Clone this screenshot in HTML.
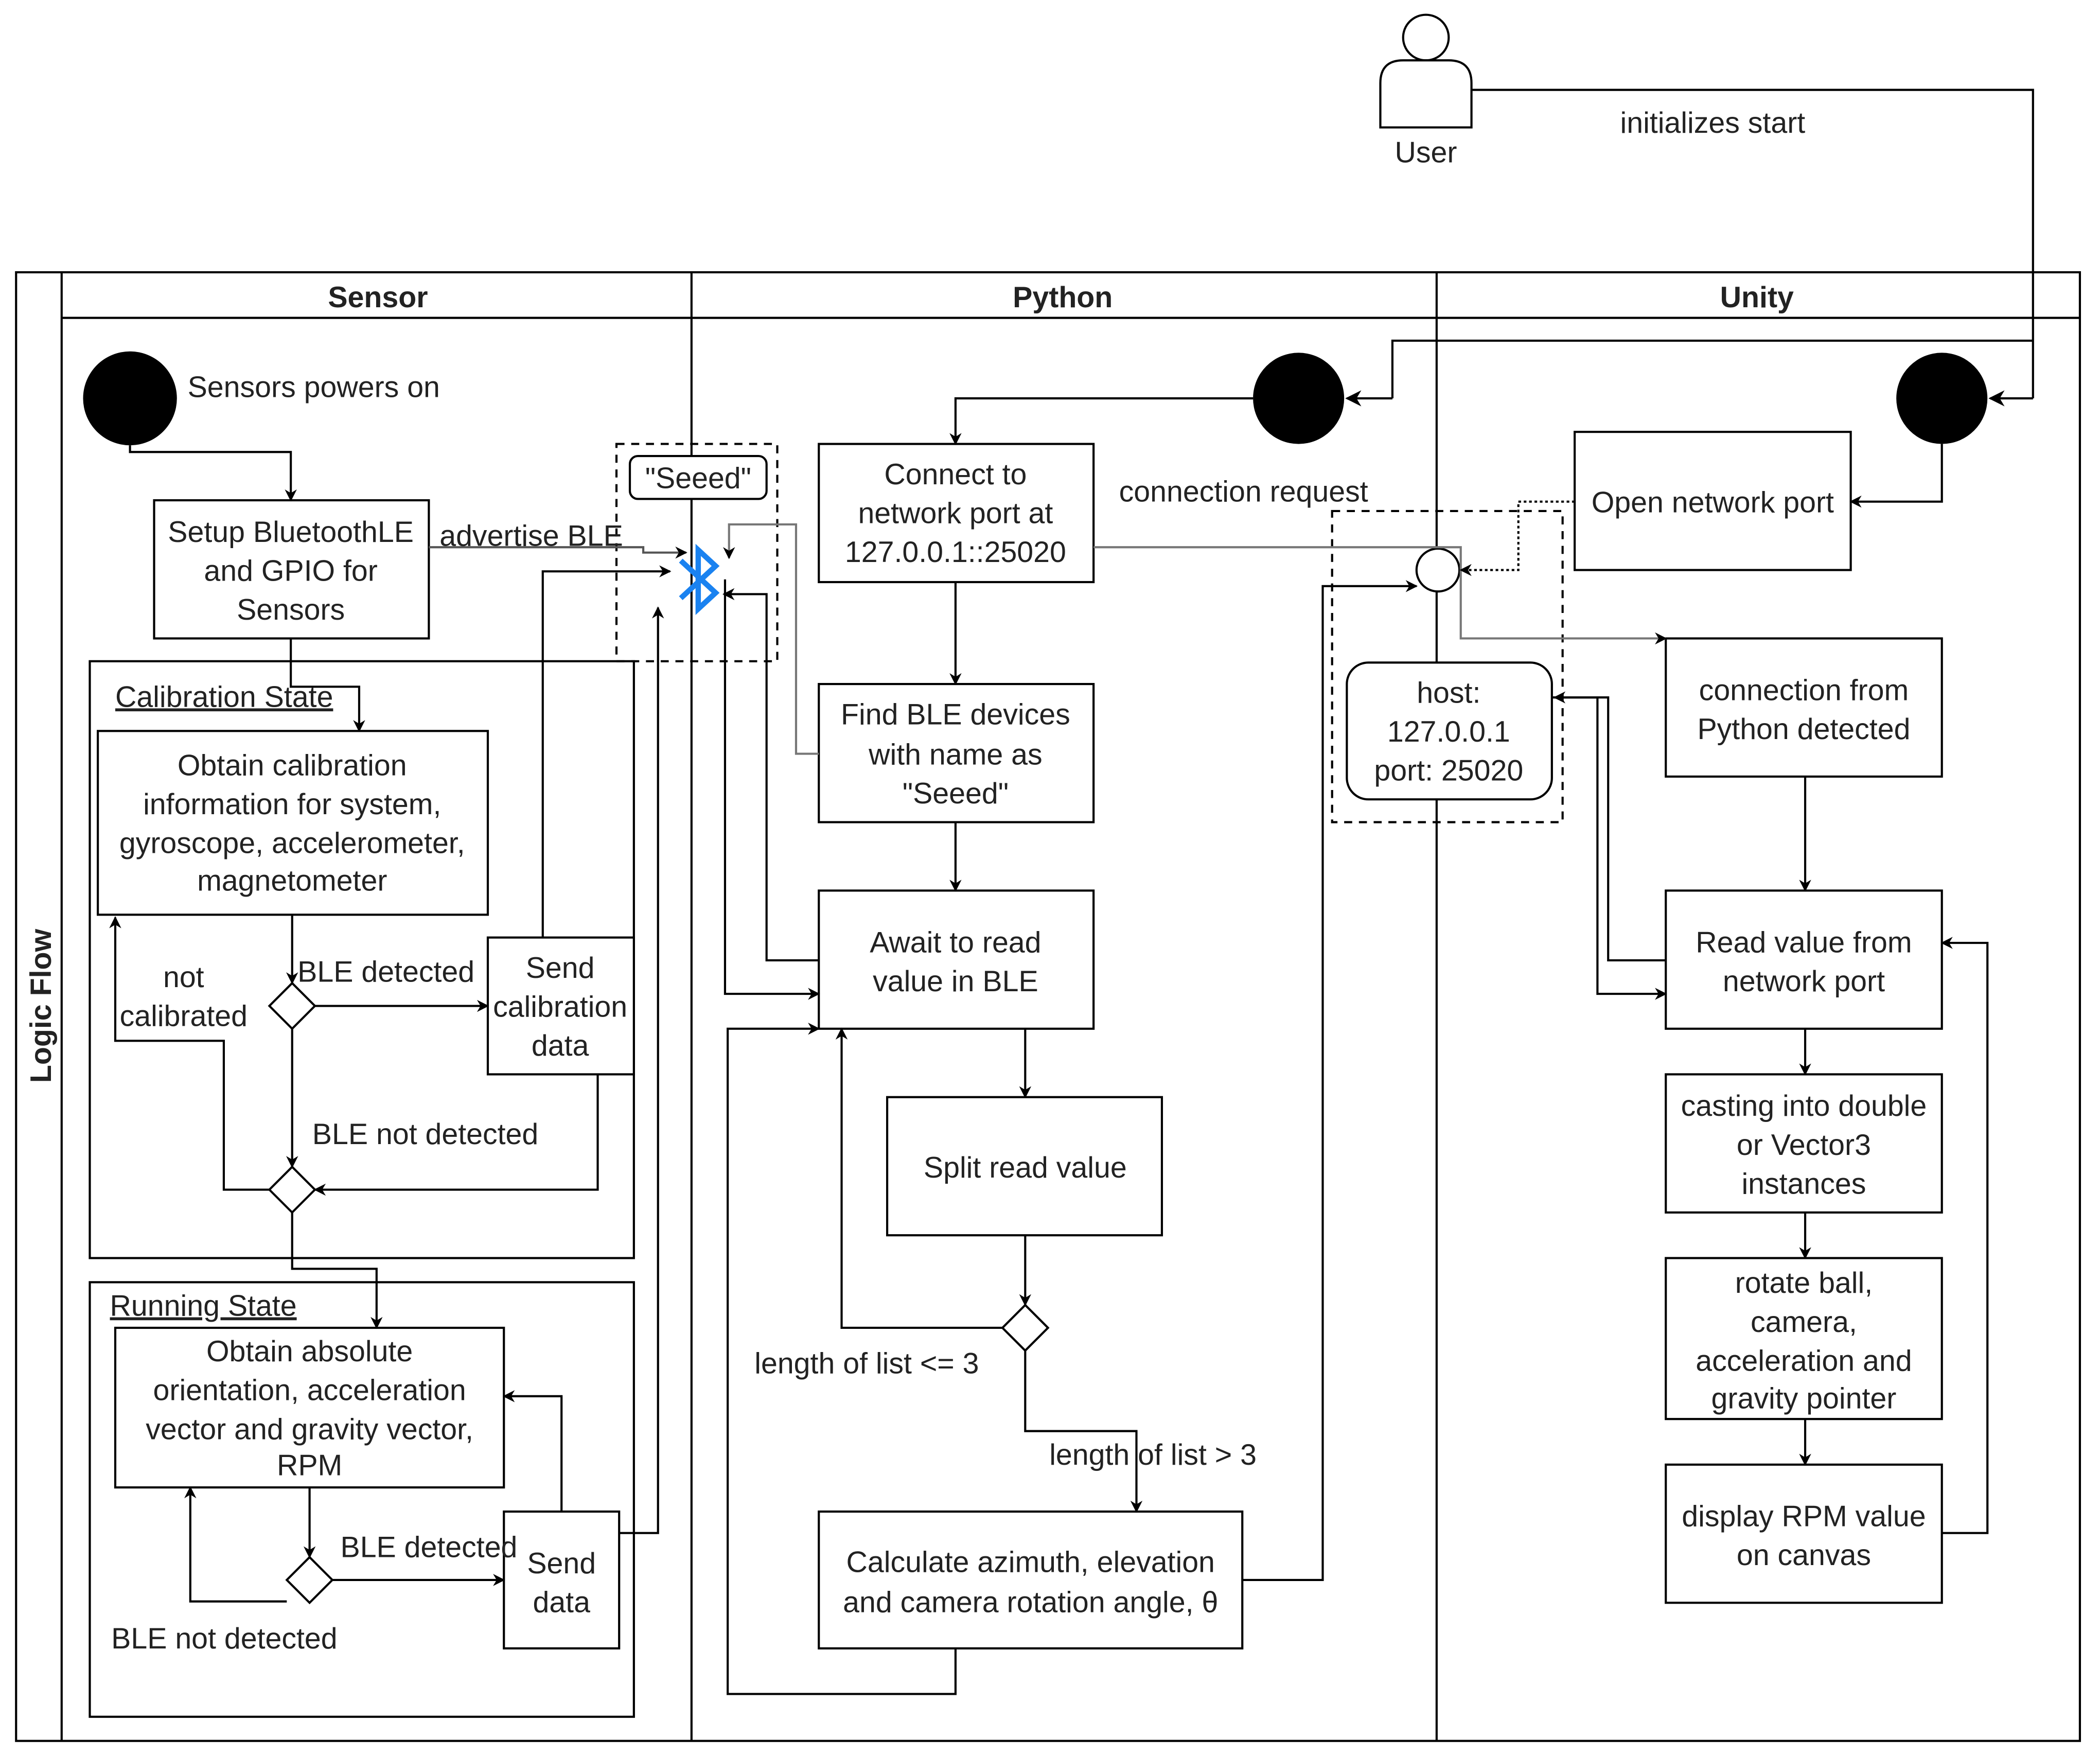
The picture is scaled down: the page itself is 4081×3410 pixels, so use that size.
<!DOCTYPE html>
<html><head><meta charset="utf-8"><style>
html,body{margin:0;padding:0;background:#fff}
svg{display:block}
text{font-family:"Liberation Sans",sans-serif;font-size:22px;fill:#222}
</style></head><body>
<svg width="4081" height="3410" viewBox="0 0 1567 1308.5" preserveAspectRatio="none" xmlns="http://www.w3.org/2000/svg">
<defs>
<marker id="a" viewBox="0 0 10 10" refX="9" refY="5" markerWidth="9" markerHeight="9" orient="auto" markerUnits="userSpaceOnUse"><path d="M0,0 L10,5 L0,10 L3,5 z" fill="#000"/></marker>
<marker id="a2" viewBox="0 0 10 10" refX="9" refY="5" markerWidth="12" markerHeight="12" orient="auto" markerUnits="userSpaceOnUse"><path d="M0,0 L10,5 L0,10 L3,5 z" fill="#000"/></marker>
</defs>
<g fill="none" stroke="#000" stroke-width="1.6">
<rect x="12" y="203" width="1540" height="1095"/>
<line x1="46" y1="203" x2="46" y2="1298"/>
<line x1="46" y1="237" x2="1552" y2="237"/>
<line x1="516" y1="203" x2="516" y2="1298"/>
<line x1="1072" y1="203" x2="1072" y2="1298"/>
<circle cx="1064" cy="28" r="17" fill="#fff"/>
<path d="M1030,95 L1030,62 Q1030,45 1047,45 L1081,45 Q1098,45 1098,62 L1098,95 Z" fill="#fff"/>
<polyline points="1098,67 1517,67 1517,297" />
<line x1="1517" y1="297" x2="1485" y2="297" marker-end="url(#a2)"/>
<polyline points="1517,254 1039,254 1039,297" />
<line x1="1039" y1="297" x2="1005" y2="297" marker-end="url(#a2)"/>
<rect x="67" y="493" width="406" height="445"/>
<rect x="67" y="956" width="406" height="324"/>
<rect x="115" y="373" width="205" height="103" fill="#fff"/>
<rect x="73" y="545" width="291" height="137" fill="#fff"/>
<rect x="364" y="699" width="109" height="102" fill="#fff"/>
<rect x="86" y="990" width="290" height="119" fill="#fff"/>
<rect x="376" y="1127" width="86" height="102" fill="#fff"/>
<rect x="611" y="331" width="205" height="103"/>
<rect x="611" y="510" width="205" height="103"/>
<rect x="611" y="664" width="205" height="103"/>
<rect x="662" y="818" width="205" height="103"/>
<rect x="611" y="1127" width="316" height="102"/>
<rect x="1175" y="322" width="206" height="103"/>
<rect x="1243" y="476" width="206" height="103"/>
<rect x="1243" y="664" width="206" height="103"/>
<rect x="1243" y="801" width="206" height="103"/>
<rect x="1243" y="938" width="206" height="120"/>
<rect x="1243" y="1092" width="206" height="103"/>
<rect x="1005" y="494" width="153" height="102" rx="16" fill="#fff"/>
<rect x="470" y="340" width="102" height="32" rx="6" fill="#fff"/>
<rect x="460" y="331" width="120" height="162" stroke-dasharray="6,5"/>
<rect x="994" y="381" width="172" height="232" stroke-dasharray="6,5"/>
<path d="M218,733 L235,750 L218,767 L201,750 Z" fill="#fff"/>
<path d="M218,870 L235,887 L218,904 L201,887 Z" fill="#fff"/>
<path d="M231,1161 L248,1178 L231,1195 L214,1178 Z" fill="#fff"/>
<path d="M765,973 L782,990 L765,1007 L748,990 Z" fill="#fff"/>
<circle cx="1073" cy="425" r="16" fill="#fff"/>
<polyline points="97,332 97,337 217,337 217,373" marker-end="url(#a)"/>
<polyline points="217,476 217,512 268,512 268,545" marker-end="url(#a)"/>
<line x1="218" y1="682" x2="218" y2="733" marker-end="url(#a)"/>
<line x1="235" y1="750" x2="364" y2="750" marker-end="url(#a)"/>
<line x1="218" y1="767" x2="218" y2="870" marker-end="url(#a)"/>
<polyline points="446,801 446,887 235,887" marker-end="url(#a)"/>
<polyline points="201,887 167,887 167,776 86,776 86,684" marker-end="url(#a)"/>
<polyline points="405,699 405,426 500,426" marker-end="url(#a)"/>
<polyline points="218,904 218,946 281,946 281,990" marker-end="url(#a)"/>
<line x1="231" y1="1109" x2="231" y2="1161" marker-end="url(#a)"/>
<line x1="248" y1="1178" x2="376" y2="1178" marker-end="url(#a)"/>
<polyline points="214,1194 142,1194 142,1109" marker-end="url(#a)"/>
<polyline points="419,1127 419,1041 376,1041" marker-end="url(#a)"/>
<polyline points="462,1143 491,1143 491,453" marker-end="url(#a)"/>
<polyline points="320,408 480,408 480,412 512,412" stroke="#555" marker-end="url(#a)"/>
<polyline points="935,297 713,297 713,331" marker-end="url(#a)"/>
<line x1="713" y1="434" x2="713" y2="510" marker-end="url(#a)"/>
<polyline points="611,562 594,562 594,391 544,391 544,416" stroke="#777" marker-end="url(#a)"/>
<line x1="713" y1="613" x2="713" y2="664" marker-end="url(#a)"/>
<polyline points="611,716 572,716 572,443 540,443" marker-end="url(#a)"/>
<polyline points="541,432 541,741 611,741" marker-end="url(#a)"/>
<line x1="765" y1="767" x2="765" y2="818" marker-end="url(#a)"/>
<line x1="765" y1="921" x2="765" y2="973" marker-end="url(#a)"/>
<polyline points="748,990 628,990 628,767" marker-end="url(#a)"/>
<polyline points="765,1007 765,1067 848,1067 848,1127" marker-end="url(#a)"/>
<polyline points="713,1229 713,1263 543,1263 543,767 611,767" marker-end="url(#a)"/>
<polyline points="927,1178 987,1178 987,437 1057,437" marker-end="url(#a)"/>
<polyline points="816,408 1090,408 1090,476 1243,476" stroke="#777" marker-end="url(#a)"/>
<polyline points="1175,374 1133,374 1133,425 1090,425" stroke-dasharray="2,2" marker-end="url(#a)"/>
<polyline points="1449,331 1449,374 1381,374" marker-end="url(#a)"/>
<line x1="1347" y1="579" x2="1347" y2="664" marker-end="url(#a)"/>
<polyline points="1243,716 1200,716 1200,520 1160,520" marker-end="url(#a)"/>
<polyline points="1158,520 1192,520 1192,741 1243,741" marker-end="url(#a)"/>
<line x1="1347" y1="767" x2="1347" y2="801" marker-end="url(#a)"/>
<line x1="1347" y1="904" x2="1347" y2="938" marker-end="url(#a)"/>
<line x1="1347" y1="1058" x2="1347" y2="1092" marker-end="url(#a)"/>
<polyline points="1449,1143 1483,1143 1483,703 1449,703" marker-end="url(#a)"/>
</g>
<circle cx="97" cy="297" r="35" fill="#000"/>
<circle cx="969" cy="297" r="34" fill="#000"/>
<circle cx="1449" cy="297" r="34" fill="#000"/>
<path d="M508,418 L534,442 L521,454 L521,410 L534,422 L508,446" fill="none" stroke="#1a82f0" stroke-width="4"/>
<g text-anchor="middle">
<text x="1064" y="121">User</text>
<text x="1278" y="99">initializes start</text>
<text x="282" y="229" font-weight="bold">Sensor</text>
<text x="793" y="229" font-weight="bold">Python</text>
<text x="1311" y="229" font-weight="bold">Unity</text>
<text transform="translate(38,750) rotate(-90)" font-weight="bold">Logic Flow</text>
<text x="217" y="404">Setup BluetoothLE</text><text x="217" y="433">and GPIO for</text><text x="217" y="462">Sensors</text>
<text x="218" y="578">Obtain calibration</text><text x="218" y="607">information for system,</text><text x="218" y="636">gyroscope, accelerometer,</text><text x="218" y="664">magnetometer</text>
<text x="418" y="729">Send</text><text x="418" y="758">calibration</text><text x="418" y="787">data</text>
<text x="137" y="736">not</text><text x="137" y="765">calibrated</text>
<text x="231" y="1015">Obtain absolute</text><text x="231" y="1044">orientation, acceleration</text><text x="231" y="1073">vector and gravity vector,</text><text x="231" y="1100">RPM</text>
<text x="419" y="1173">Send</text><text x="419" y="1202">data</text>
<text x="521" y="364">"Seeed"</text>
<text x="713" y="361">Connect to</text><text x="713" y="390">network port at</text><text x="713" y="419">127.0.0.1::25020</text>
<text x="713" y="540">Find BLE devices</text><text x="713" y="570">with name as</text><text x="713" y="599">"Seeed"</text>
<text x="713" y="710">Await to read</text><text x="713" y="739">value in BLE</text>
<text x="765" y="878">Split read value</text>
<text x="769" y="1172">Calculate azimuth, elevation</text><text x="769" y="1202">and camera rotation angle, θ</text>
<text x="1278" y="382">Open network port</text>
<text x="1081" y="524">host:</text><text x="1081" y="553">127.0.0.1</text><text x="1081" y="582">port: 25020</text>
<text x="1346" y="522">connection from</text><text x="1346" y="551">Python detected</text>
<text x="1346" y="710">Read value from</text><text x="1346" y="739">network port</text>
<text x="1346" y="832">casting into double</text><text x="1346" y="861">or Vector3</text><text x="1346" y="890">instances</text>
<text x="1346" y="964">rotate ball,</text><text x="1346" y="993">camera,</text><text x="1346" y="1022">acceleration and</text><text x="1346" y="1050">gravity pointer</text>
<text x="1346" y="1138">display RPM value</text><text x="1346" y="1167">on canvas</text>
</g>
<text x="140" y="296">Sensors powers on</text>
<text x="328" y="407">advertise BLE</text>
<text x="86" y="527" text-decoration="underline">Calibration State</text>
<text x="82" y="981" text-decoration="underline">Running State</text>
<text x="222" y="732">BLE detected</text>
<text x="233" y="853">BLE not detected</text>
<text x="254" y="1161">BLE detected</text>
<text x="83" y="1229">BLE not detected</text>
<text x="835" y="374">connection request</text>
<text x="563" y="1024">length of list &lt;= 3</text>
<text x="783" y="1092">length of list &gt; 3</text>
</svg>
</body></html>
